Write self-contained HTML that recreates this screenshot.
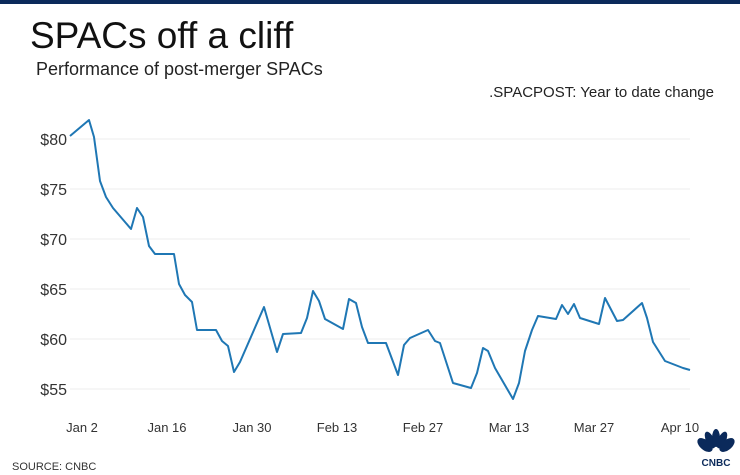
<!DOCTYPE html>
<html><head><style>
body{margin:0;background:#fff;}
svg{display:block;font-family:"Liberation Sans",sans-serif;}
</style></head><body>
<svg width="740" height="475" viewBox="0 0 740 475">
<rect x="0" y="0" width="740" height="4" fill="#0b2a5b"/>
<text x="30" y="48" font-size="37" fill="#111">SPACs off a cliff</text>
<text x="36" y="75" font-size="18" fill="#222">Performance of post-merger SPACs</text>
<text x="714" y="97" font-size="15" fill="#222" text-anchor="end">.SPACPOST: Year to date change</text>
<g stroke="#ececec" stroke-width="1">
<line x1="70" x2="690" y1="139" y2="139"/><line x1="70" x2="690" y1="189" y2="189"/>
<line x1="70" x2="690" y1="239" y2="239"/><line x1="70" x2="690" y1="289" y2="289"/>
<line x1="70" x2="690" y1="339" y2="339"/><line x1="70" x2="690" y1="389" y2="389"/>
</g>
<g font-size="16" fill="#333" text-anchor="end">
<text x="67" y="145">$80</text><text x="67" y="195">$75</text><text x="67" y="245">$70</text>
<text x="67" y="295">$65</text><text x="67" y="345">$60</text><text x="67" y="395">$55</text>
</g>
<g font-size="13" fill="#333" text-anchor="middle">
<text x="82" y="432">Jan 2</text><text x="167" y="432">Jan 16</text><text x="252" y="432">Jan 30</text>
<text x="337" y="432">Feb 13</text><text x="423" y="432">Feb 27</text><text x="509" y="432">Mar 13</text>
<text x="594" y="432">Mar 27</text><text x="680" y="432">Apr 10</text>
</g>
<polyline fill="none" stroke="#1f77b4" stroke-width="2" stroke-linejoin="round" points="70,136 89,120 94,137 100,181 106,197 113,208 131,229 137,208 143,217 149,246 155,254 174,254 179,284 185,295 192,302 197,330 216,330 222,341 228,346 234,372 240,362 264,307 277,352 283,334 301,333 307,318 313,291 319,301 325,319 343,329 349,299 356,303 362,327 368,343 386,343 392,359 398,375 404,345 410,338 428,330 435,341 440,343 453,383 471,388 477,373 483,348 488,351 495,368 513,399 519,383 525,351 532,330 538,316 556,319 562,305 568,314 574,304 580,318 599,324 605,298 617,321 623,320 642,303 647,318 653,342 665,361 683,368 690,370"/>
<text x="12" y="470" font-size="11" fill="#333">SOURCE: CNBC</text>
<g fill="#0b2a5b">
<ellipse cx="705" cy="445" rx="5" ry="9" transform="rotate(-50 705 445)"/>
<ellipse cx="710" cy="440" rx="4" ry="9" transform="rotate(-25 710 440)"/>
<ellipse cx="716" cy="438" rx="4" ry="9"/>
<ellipse cx="722" cy="440" rx="4" ry="9" transform="rotate(25 722 440)"/>
<ellipse cx="727" cy="445" rx="5" ry="9" transform="rotate(50 727 445)"/>
<text x="716" y="466" font-size="10" font-weight="bold" text-anchor="middle">CNBC</text>
</g>
</svg>
</body></html>
